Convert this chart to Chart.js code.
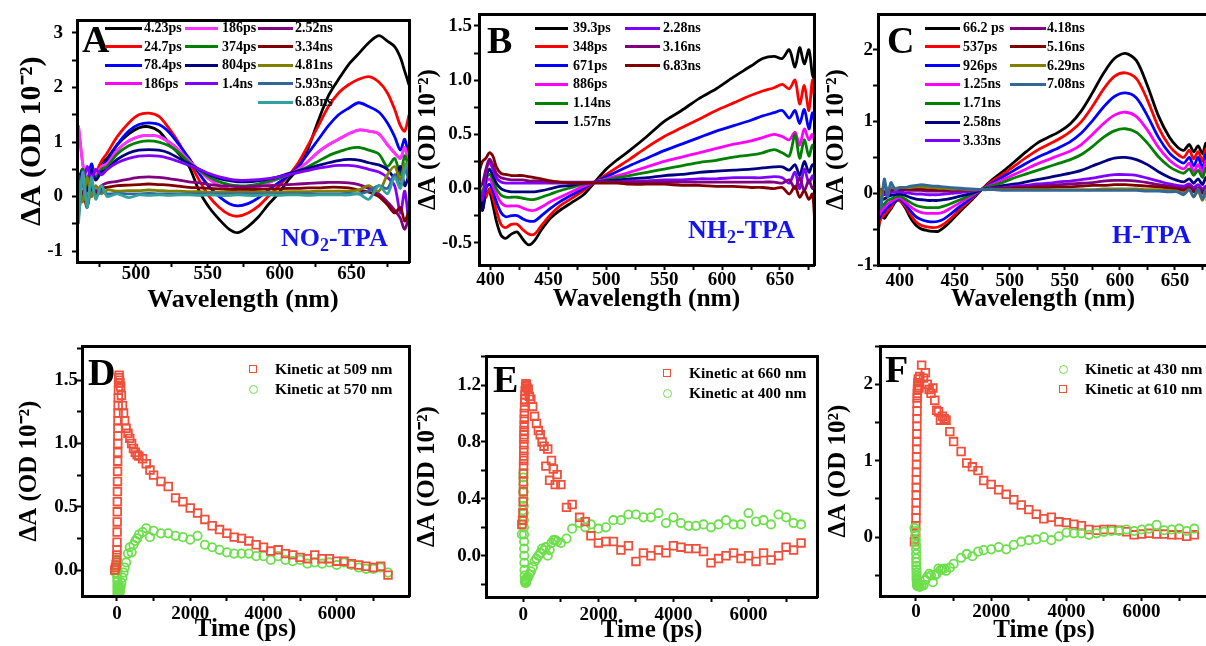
<!DOCTYPE html>
<html>
<head>
<meta charset="utf-8">
<script src="https://cdn.jsdelivr.net/npm/chart.js@4.4.1/dist/chart.umd.min.js"></script>
<style>
  html, body { margin: 0; padding: 0; background: #fff; }
  #fig { position: relative; width: 1206px; height: 646px; overflow: hidden;
         font-family: 'Liberation Serif', 'Times New Roman', serif; font-weight: bold; }
  #fig canvas { position: absolute; }
  .lbl { position: absolute; line-height: 1; white-space: nowrap; }
  .panel { font-size: 38px; color: #000; }
  .mol { font-size: 26px; color: #1414f0; }
  .mol sub { font-size: 18px; vertical-align: -5px; line-height: 0; }
  .leg { position: absolute; height: 18px; display: flex; align-items: center; font-size: 14px; white-space: nowrap; }
  .leg .ln { display: inline-block; height: 3px; }
  .kleg { position: absolute; height: 20px; display: flex; align-items: center; font-size: 15.5px; white-space: nowrap; }
  .mk { position: absolute; box-sizing: border-box; border: 1.8px solid; }
</style>
</head>
<body>
<div id="fig">
  <canvas id="cA" width="412" height="320" style="left:0;top:0;width:412px;height:320px"></canvas>
  <canvas id="cB" width="404" height="320" style="left:412px;top:0;width:404px;height:320px"></canvas>
  <canvas id="cC" width="394" height="320" style="left:816px;top:0;width:394px;height:320px"></canvas>
  <canvas id="cD" width="412" height="326" style="left:0;top:320px;width:412px;height:326px"></canvas>
  <canvas id="cE" width="408" height="326" style="left:412px;top:320px;width:408px;height:326px"></canvas>
  <canvas id="cF" width="392" height="326" style="left:818px;top:320px;width:392px;height:326px"></canvas>
</div>
<script>
// ---------- A : NO2-TPA transient spectra ----------
const wlA = [460,463,466,469,472,476,480,487,495,502,509,516,523,530,537,544,551,558,565,571,578,585,592,599,606,613,620,627,634,641,648,655,662,669,675,680,684,687,690]
const A_4_23ps = [0.3,0.5,0.2,0.55,0.4,0.62,0.7,0.95,1.15,1.26,1.28,1.2,0.98,0.78,0.55,0.1,-0.2,-0.42,-0.6,-0.66,-0.55,-0.38,-0.15,0.05,0.3,0.52,0.9,1.4,1.85,2.15,2.42,2.62,2.82,2.95,2.85,2.75,2.55,2.3,2.05]
const A_24_7ps = [0.2,0.45,0.3,0.5,0.45,0.65,0.8,1.1,1.35,1.5,1.53,1.47,1.25,0.98,0.65,0.3,0.0,-0.2,-0.33,-0.36,-0.3,-0.18,0.0,0.18,0.38,0.62,0.95,1.3,1.65,1.9,2.05,2.15,2.2,2.1,1.9,1.6,1.3,1.2,1.5]
const A_78_4ps = [0.1,0.5,0.25,0.6,0.35,0.55,0.65,0.95,1.2,1.32,1.35,1.32,1.18,0.95,0.7,0.42,0.18,0.0,-0.13,-0.17,-0.13,-0.03,0.12,0.25,0.38,0.55,0.8,1.05,1.3,1.5,1.62,1.72,1.65,1.55,1.35,1.1,0.85,1.05,0.7]
const A_186ps = [1.3,0.6,0.2,0.5,0.4,0.55,0.6,0.85,1.02,1.1,1.12,1.1,1.0,0.85,0.65,0.48,0.32,0.2,0.13,0.1,0.12,0.17,0.25,0.33,0.4,0.5,0.65,0.82,0.95,1.05,1.15,1.22,1.2,1.15,0.95,0.8,0.7,0.9,0.6]
const A_374ps = [0.0,0.5,0.2,0.45,0.35,0.5,0.55,0.78,0.93,1.0,1.02,1.0,0.93,0.8,0.62,0.48,0.36,0.27,0.22,0.2,0.2,0.23,0.28,0.33,0.4,0.47,0.55,0.65,0.75,0.82,0.88,0.9,0.85,0.78,0.55,0.7,0.4,0.75,0.5]
const A_804ps = [0.2,0.45,0.1,0.5,0.3,0.45,0.5,0.68,0.8,0.85,0.86,0.85,0.8,0.7,0.6,0.5,0.4,0.33,0.29,0.27,0.27,0.29,0.32,0.36,0.42,0.47,0.52,0.57,0.62,0.66,0.68,0.67,0.62,0.58,0.5,0.35,0.55,0.2,0.4]
const A_1_4ns = [0.4,0.2,0.55,0.3,0.5,0.4,0.5,0.62,0.7,0.74,0.75,0.74,0.7,0.64,0.57,0.5,0.42,0.36,0.32,0.3,0.3,0.31,0.33,0.36,0.4,0.44,0.48,0.52,0.55,0.57,0.57,0.55,0.5,0.45,0.35,0.2,-0.3,0.1,-0.55]
const A_2_52ns = [0.0,0.3,-0.1,0.25,0.1,0.2,0.25,0.28,0.32,0.35,0.36,0.35,0.33,0.3,0.27,0.25,0.22,0.2,0.19,0.18,0.18,0.19,0.2,0.21,0.22,0.23,0.24,0.25,0.26,0.26,0.25,0.22,0.15,0.05,-0.1,-0.25,-0.4,-0.6,-0.35]
const A_3_34ns = [-0.3,0.1,-0.2,0.15,0.05,0.15,0.17,0.2,0.21,0.22,0.23,0.22,0.21,0.19,0.17,0.16,0.15,0.14,0.13,0.13,0.13,0.13,0.14,0.14,0.15,0.15,0.16,0.16,0.17,0.17,0.16,0.12,0.08,0.0,-0.15,-0.3,-0.2,-0.45,-0.25]
const A_4_81ns = [0.3,-0.1,0.35,0.0,0.2,0.05,0.12,0.1,0.11,0.11,0.12,0.11,0.1,0.1,0.09,0.09,0.08,0.08,0.08,0.08,0.08,0.08,0.08,0.08,0.09,0.09,0.09,0.1,0.1,0.1,0.1,0.12,0.2,0.1,0.4,0.55,0.3,0.6,0.45]
const A_5_93ns = [-0.4,0.3,-0.1,0.25,0.0,0.1,0.05,0.06,0.05,0.05,0.06,0.05,0.05,0.05,0.05,0.05,0.05,0.05,0.05,0.05,0.05,0.05,0.05,0.05,0.05,0.05,0.05,0.05,0.05,0.05,0.06,0.05,0.1,0.2,0.15,0.4,0.2,0.5,0.3]
const A_6_83ns = [-0.5,0.45,-0.2,0.35,-0.05,0.2,0.0,0.05,-0.02,0.03,0.02,0.03,0.02,0.03,0.03,0.02,0.03,0.02,0.02,0.03,0.02,0.02,0.03,0.02,0.03,0.03,0.02,0.03,0.03,0.03,0.03,0.05,-0.05,0.2,0.05,0.35,0.15,0.5,0.65]
const namesA = ['4.23ps','24.7ps','78.4ps','186ps','186ps','374ps','804ps','1.4ns','2.52ns','3.34ns','4.81ns','5.93ns','6.83ns']
const seriesA = [A_4_23ps, A_24_7ps, A_78_4ps, A_186ps, A_186ps, A_374ps, A_804ps, A_1_4ns, A_2_52ns, A_3_34ns, A_4_81ns, A_5_93ns, A_6_83ns]

// ---------- B : NH2-TPA transient spectra ----------
const wlB = [390,393,396,399,402,405,409,413,418,423,428,433,438,444,452,460,470,480,490,500,510,520,535,550,565,580,595,610,625,635,645,652,658,663,667,671,675,678,680]
const B_39_3ps = [-0.1,-0.2,-0.05,-0.03,-0.15,-0.3,-0.43,-0.46,-0.42,-0.4,-0.47,-0.52,-0.48,-0.38,-0.27,-0.2,-0.13,-0.06,0.06,0.18,0.27,0.35,0.48,0.62,0.72,0.83,0.92,1.03,1.13,1.2,1.22,1.2,1.28,1.12,1.3,1.15,1.28,1.05,1.0]
const B_348ps = [-0.15,-0.1,-0.08,0.0,-0.08,-0.2,-0.33,-0.36,-0.33,-0.33,-0.38,-0.42,-0.42,-0.34,-0.24,-0.16,-0.09,-0.02,0.06,0.13,0.2,0.27,0.38,0.48,0.56,0.64,0.72,0.79,0.86,0.9,0.93,0.96,0.92,1.0,0.78,0.95,0.72,1.0,0.8]
const B_671ps = [-0.1,-0.15,0.0,0.04,-0.02,-0.12,-0.22,-0.26,-0.25,-0.25,-0.28,-0.3,-0.3,-0.25,-0.18,-0.12,-0.06,0.0,0.06,0.11,0.16,0.21,0.28,0.35,0.41,0.47,0.53,0.58,0.63,0.67,0.7,0.72,0.65,0.72,0.6,0.73,0.55,0.7,0.6]
const B_886ps = [-0.05,-0.12,0.05,0.09,0.03,-0.05,-0.13,-0.16,-0.16,-0.16,-0.18,-0.2,-0.2,-0.17,-0.12,-0.08,-0.03,0.02,0.06,0.09,0.12,0.15,0.2,0.25,0.29,0.33,0.37,0.41,0.44,0.47,0.5,0.48,0.45,0.52,0.4,0.55,0.45,0.5,0.42]
const B_1_14ns = [-0.2,-0.05,0.08,0.13,0.08,0.0,-0.06,-0.08,-0.08,-0.08,-0.09,-0.1,-0.1,-0.08,-0.05,-0.02,0.01,0.04,0.06,0.08,0.1,0.12,0.15,0.18,0.21,0.24,0.26,0.29,0.31,0.33,0.36,0.33,0.3,0.5,0.28,0.45,0.3,0.4,0.35]
const B_1_57ns = [-0.05,-0.2,0.1,0.18,0.12,0.05,0.0,-0.02,-0.03,-0.03,-0.03,-0.03,-0.03,-0.02,0.0,0.02,0.03,0.05,0.06,0.07,0.08,0.09,0.1,0.12,0.13,0.15,0.16,0.17,0.18,0.19,0.2,0.2,0.17,0.22,0.12,0.25,0.15,0.22,0.2]
const B_2_28ns = [0.05,-0.1,0.15,0.24,0.18,0.1,0.06,0.05,0.05,0.05,0.05,0.05,0.05,0.05,0.05,0.05,0.05,0.05,0.06,0.06,0.06,0.07,0.07,0.08,0.08,0.09,0.09,0.1,0.1,0.1,0.11,0.1,0.05,0.15,0.0,0.18,0.05,0.12,0.05]
const B_3_16ns = [0.0,0.05,0.18,0.27,0.22,0.14,0.1,0.09,0.08,0.08,0.08,0.07,0.07,0.07,0.06,0.06,0.06,0.06,0.06,0.06,0.06,0.06,0.06,0.06,0.06,0.06,0.06,0.06,0.06,0.06,0.06,0.05,0.08,0.0,0.1,-0.02,0.08,0.0,0.03]
const B_6_83ns = [0.15,0.25,0.28,0.33,0.3,0.2,0.14,0.13,0.12,0.12,0.12,0.11,0.1,0.09,0.07,0.06,0.05,0.05,0.05,0.05,0.05,0.04,0.04,0.04,0.03,0.03,0.02,0.02,0.01,0.01,0.0,0.01,-0.05,0.02,-0.08,-0.02,-0.1,-0.05,-0.3]
const namesB = ['39.3ps','348ps','671ps','886ps','1.14ns','1.57ns','2.28ns','3.16ns','6.83ns']
const seriesB = [B_39_3ps, B_348ps, B_671ps, B_886ps, B_1_14ns, B_1_57ns, B_2_28ns, B_3_16ns, B_6_83ns]

// ---------- C : H-TPA transient spectra ----------
const wlC = [380,383,386,389,392,396,400,405,410,415,420,425,430,435,440,447,455,465,475,485,495,505,515,525,535,545,555,565,575,585,595,605,615,625,635,645,652,658,663,667,671,675,678,680]
const C_66_2ps = [-0.6,-0.3,-0.35,-0.28,-0.22,-0.12,-0.1,-0.2,-0.35,-0.45,-0.5,-0.52,-0.53,-0.53,-0.48,-0.38,-0.25,-0.1,0.06,0.2,0.32,0.45,0.58,0.7,0.78,0.86,0.97,1.15,1.4,1.67,1.88,1.95,1.85,1.5,1.08,0.78,0.65,0.6,0.68,0.58,0.66,0.55,0.7,0.6]
const C_537ps = [-0.5,-0.35,-0.3,-0.25,-0.2,-0.1,-0.1,-0.18,-0.3,-0.4,-0.45,-0.47,-0.48,-0.47,-0.43,-0.34,-0.22,-0.08,0.06,0.18,0.28,0.39,0.5,0.6,0.68,0.76,0.86,1.0,1.21,1.45,1.63,1.68,1.6,1.3,0.92,0.66,0.55,0.5,0.6,0.48,0.58,0.45,0.62,0.5]
const C_926ps = [-0.4,-0.3,-0.25,-0.2,-0.15,-0.1,-0.08,-0.15,-0.25,-0.33,-0.37,-0.39,-0.4,-0.39,-0.36,-0.28,-0.18,-0.06,0.06,0.15,0.24,0.33,0.42,0.5,0.57,0.64,0.72,0.84,1.01,1.2,1.35,1.4,1.33,1.08,0.78,0.56,0.47,0.42,0.5,0.38,0.5,0.35,0.55,0.4]
const C_1_25ns = [-0.35,-0.25,-0.2,-0.15,-0.12,-0.08,-0.06,-0.12,-0.19,-0.24,-0.27,-0.28,-0.28,-0.28,-0.26,-0.2,-0.13,-0.04,0.06,0.13,0.2,0.27,0.34,0.41,0.47,0.53,0.59,0.68,0.82,0.97,1.09,1.13,1.07,0.88,0.64,0.46,0.38,0.34,0.42,0.3,0.4,0.28,0.45,0.32]
const C_1_71ns = [-0.25,-0.2,-0.15,-0.1,-0.08,-0.05,-0.04,-0.08,-0.13,-0.17,-0.19,-0.2,-0.2,-0.2,-0.18,-0.14,-0.09,-0.02,0.06,0.11,0.16,0.22,0.27,0.32,0.37,0.42,0.47,0.54,0.65,0.78,0.87,0.9,0.85,0.7,0.51,0.37,0.31,0.28,0.34,0.25,0.32,0.22,0.35,0.25]
const C_2_58ns = [-0.2,-0.1,-0.08,-0.05,-0.03,-0.02,-0.01,-0.03,-0.06,-0.08,-0.09,-0.1,-0.1,-0.1,-0.09,-0.07,-0.04,0.0,0.05,0.08,0.11,0.13,0.16,0.19,0.22,0.25,0.28,0.32,0.38,0.44,0.49,0.5,0.47,0.4,0.3,0.22,0.18,0.16,0.2,0.14,0.2,0.12,0.22,0.15]
const C_3_33ns = [-0.15,0.0,-0.02,0.0,0.01,0.02,0.02,0.01,0.0,-0.01,-0.01,-0.02,-0.02,-0.02,-0.01,0.0,0.01,0.03,0.05,0.07,0.08,0.1,0.11,0.13,0.14,0.16,0.17,0.19,0.21,0.24,0.26,0.26,0.25,0.21,0.17,0.13,0.11,0.1,0.13,0.08,0.12,0.06,0.1,0.05]
const C_4_18ns = [-0.3,0.05,0.0,0.03,0.04,0.05,0.05,0.05,0.04,0.04,0.04,0.03,0.03,0.03,0.03,0.03,0.04,0.04,0.05,0.06,0.07,0.08,0.09,0.1,0.11,0.12,0.13,0.14,0.15,0.17,0.18,0.18,0.17,0.15,0.12,0.1,0.08,0.07,0.1,0.05,0.08,0.03,0.07,0.02]
const C_5_16ns = [-0.2,0.05,0.02,0.05,0.05,0.06,0.06,0.06,0.06,0.06,0.06,0.06,0.05,0.05,0.05,0.05,0.05,0.05,0.05,0.06,0.06,0.07,0.07,0.08,0.08,0.09,0.09,0.1,0.11,0.11,0.12,0.12,0.11,0.1,0.09,0.07,0.06,0.04,0.07,0.02,0.06,0.0,0.05,-0.02]
const C_6_29ns = [0.3,-0.1,0.15,0.05,0.08,0.07,0.08,0.08,0.08,0.09,0.09,0.08,0.08,0.07,0.07,0.06,0.06,0.05,0.05,0.05,0.05,0.05,0.05,0.05,0.05,0.05,0.05,0.05,0.05,0.06,0.06,0.06,0.06,0.05,0.05,0.04,0.03,0.0,0.05,-0.05,0.03,-0.1,0.02,-0.25]
const C_7_08ns = [0.1,-0.2,0.2,-0.05,0.15,0.05,0.08,0.08,0.1,0.11,0.12,0.11,0.1,0.1,0.09,0.08,0.07,0.06,0.05,0.05,0.04,0.04,0.04,0.04,0.04,0.04,0.04,0.04,0.04,0.04,0.04,0.04,0.04,0.03,0.03,0.02,0.02,-0.02,0.05,-0.05,0.06,-0.08,0.05,-0.1]
const namesC = ['66.2 ps','537ps','926ps','1.25ns','1.71ns','2.58ns','3.33ns','4.18ns','5.16ns','6.29ns','7.08ns']
const seriesC = [C_66_2ps, C_537ps, C_926ps, C_1_25ns, C_1_71ns, C_2_58ns, C_3_33ns, C_4_18ns, C_5_16ns, C_6_29ns, C_7_08ns]

// ---------- D : NO2-TPA kinetics ----------
const tD = [-60,-40,-20,-10,-5,0,2,4,6,8,10,12,14,16,18,20,22,24,26,28,30,33,36,40,45,50,60,70,80,100,120,150,180,210,250,300,350,400,450,500,550,600,700,800,900,1000,1200,1400,1600,1800,2000,2200,2400,2600,2800,3000,3200,3400,3600,3800,4000,4200,4400,4600,4800,5000,5200,5400,5600,5800,6000,6200,6400,6600,6800,7000,7200,7400]
const D_509nm = [0.0,0.02,0.04,0.08,0.12,0.16,0.22,0.3,0.38,0.46,0.54,0.62,0.7,0.78,0.86,0.93,1.0,1.06,1.12,1.18,1.24,1.3,1.36,1.42,1.48,1.52,1.54,1.5,1.48,1.45,1.38,1.3,1.24,1.18,1.12,1.08,1.04,1.0,0.96,0.93,0.91,0.9,0.88,0.84,0.79,0.75,0.7,0.66,0.57,0.54,0.49,0.45,0.4,0.35,0.32,0.29,0.26,0.25,0.23,0.2,0.18,0.15,0.16,0.13,0.12,0.1,0.09,0.12,0.09,0.09,0.07,0.07,0.05,0.04,0.03,0.02,0.03,-0.04]
const D_570nm = [0.0,-0.02,0.04,0.07,0.08,0.06,0.03,0.0,-0.03,-0.06,-0.09,-0.12,-0.14,-0.16,-0.18,-0.19,-0.17,-0.19,-0.15,-0.18,-0.16,-0.19,-0.14,-0.17,-0.12,-0.16,-0.18,-0.14,-0.17,-0.13,-0.1,-0.06,-0.02,0.02,0.06,0.13,0.18,0.14,0.2,0.23,0.25,0.28,0.3,0.33,0.26,0.31,0.29,0.29,0.27,0.26,0.24,0.27,0.2,0.18,0.16,0.14,0.13,0.13,0.13,0.11,0.11,0.08,0.11,0.08,0.07,0.08,0.05,0.06,0.05,0.06,0.04,0.06,0.04,0.02,0.01,0.01,0.02,-0.02]

// ---------- E : NH2-TPA kinetics ----------
const tE = [-40,-20,-10,-5,0,2,4,6,8,10,12,14,16,18,20,22,25,28,32,36,40,45,50,60,70,80,100,130,160,200,250,300,350,400,450,500,550,600,650,700,750,800,850,900,1000,1150,1300,1500,1650,1800,2000,2200,2400,2600,2800,3000,3200,3400,3600,3800,4000,4200,4400,4600,4800,5000,5200,5400,5600,5800,6000,6200,6400,6600,6800,7000,7200,7400]
const E_660nm = [0.22,0.25,0.3,0.38,0.45,0.52,0.58,0.63,0.67,0.7,0.74,0.78,0.82,0.85,0.88,0.92,0.96,1.0,1.04,1.08,1.1,1.13,1.16,1.19,1.21,1.2,1.18,1.17,1.12,1.1,1.05,0.98,0.93,0.88,0.85,0.8,0.77,0.63,0.75,0.53,0.67,0.61,0.5,0.57,0.5,0.34,0.36,0.27,0.24,0.14,0.09,0.1,0.1,0.04,0.07,-0.04,0.02,0.0,0.04,0.02,0.07,0.06,0.05,0.05,0.03,-0.05,-0.02,0.0,0.02,-0.02,0.0,-0.04,0.02,-0.03,0.0,0.06,0.04,0.09]
const E_400nm = [0.15,0.22,0.32,0.45,0.58,0.55,0.5,0.45,0.4,0.35,0.3,0.25,0.2,0.15,0.1,0.05,0.0,-0.05,-0.1,-0.14,-0.17,-0.18,-0.19,-0.18,-0.19,-0.17,-0.16,-0.15,-0.13,-0.11,-0.08,-0.04,-0.02,0.0,0.02,0.05,0.04,0.06,0.0,0.04,0.09,0.11,0.11,0.1,0.09,0.12,0.19,0.23,0.2,0.22,0.19,0.2,0.25,0.25,0.29,0.29,0.27,0.27,0.3,0.23,0.27,0.23,0.21,0.21,0.22,0.2,0.22,0.25,0.22,0.22,0.3,0.24,0.25,0.22,0.29,0.27,0.23,0.22]

// ---------- F : H-TPA kinetics ----------
const tF = [-40,-20,-10,-5,0,2,4,6,8,10,12,14,16,18,20,22,24,26,28,30,33,36,40,45,50,60,80,100,150,200,250,300,350,400,450,500,550,600,650,700,750,800,900,1000,1200,1350,1500,1650,1800,2000,2200,2400,2600,2800,3000,3200,3400,3600,3800,4000,4200,4400,4600,4800,5000,5200,5400,5600,5800,6000,6200,6400,6600,6800,7000,7200,7400]
const F_430nm = [0.12,0.08,0.02,-0.04,-0.1,-0.16,-0.22,-0.28,-0.33,-0.38,-0.42,-0.46,-0.5,-0.53,-0.55,-0.57,-0.59,-0.6,-0.62,-0.63,-0.62,-0.64,-0.62,-0.6,-0.63,-0.6,-0.62,-0.65,-0.63,-0.63,-0.56,-0.52,-0.48,-0.5,-0.59,-0.5,-0.48,-0.41,-0.43,-0.42,-0.41,-0.44,-0.4,-0.35,-0.27,-0.22,-0.25,-0.19,-0.17,-0.16,-0.13,-0.16,-0.1,-0.06,-0.04,-0.03,0.0,-0.04,0.01,0.06,0.05,0.05,0.03,0.05,0.07,0.08,0.08,0.1,0.08,0.1,0.11,0.16,0.09,0.1,0.11,0.08,0.11]
const F_610nm = [-0.06,-0.03,0.05,0.15,0.25,0.35,0.45,0.55,0.65,0.75,0.85,0.95,1.05,1.15,1.25,1.35,1.45,1.55,1.65,1.75,1.82,1.88,1.93,1.98,2.02,2.07,1.95,2.1,2.25,2.08,2.15,2.0,1.93,1.88,1.95,1.79,1.66,1.64,1.53,1.58,1.55,1.53,1.38,1.25,1.12,0.97,0.92,0.87,0.74,0.69,0.62,0.56,0.49,0.42,0.36,0.3,0.24,0.26,0.2,0.19,0.17,0.15,0.1,0.09,0.1,0.1,0.09,0.07,0.03,0.04,0.05,0.04,0.04,0.03,0.03,0.01,0.03]

// ---------- axis ticks (all ticks / labelled ticks) ----------
const xTicksA = [475,500,525,550,575,600,625,650,675], xLabelsA = [500,550,600,650]
const yTicksA = [-1,-0.5,0,0.5,1,1.5,2,2.5,3], yLabelsA = [-1,0,1,2,3]
const xTicksB = [400,425,450,475,500,525,550,575,600,625,650,675], xLabelsB = [400,450,500,550,600,650]
const yTicksB = [-0.5,-0.25,0,0.25,0.5,0.75,1,1.25,1.5], yLabelsB = [-0.5,0,0.5,1,1.5]
const xTicksC = [400,425,450,475,500,525,550,575,600,625,650,675], xLabelsC = [400,450,500,550,600,650]
const yTicksC = [-1,-0.5,0,0.5,1,1.5,2], yLabelsC = [-1,0,1,2]
const xTicksKin = [0,1000,2000,3000,4000,5000,6000,7000], xLabelsKin = [0,2000,4000,6000]
const yTicksD = [0,0.25,0.5,0.75,1,1.25,1.5,1.75], yLabelsD = [0,0.5,1,1.5]
const yTicksE = [-0.2,0,0.2,0.4,0.6,0.8,1,1.2,1.4], yLabelsE = [0,0.4,0.8,1.2]
const yTicksF = [-0.5,0,0.5,1,1.5,2,2.5], yLabelsF = [0,1,2]

const palA = ['#000000','#ff0000','#0000ff','#ff00ff','#ff33ff','#008000','#000080','#8000ff','#800080','#800000','#808000','#336699','#33a0a0']
const palB = ['#000000','#ff0000','#0000ff','#ff00ff','#008000','#000080','#8000ff','#800080','#800000']
const palC = ['#000000','#ff0000','#0000ff','#ff00ff','#008000','#000080','#8000ff','#800080','#800000','#808000','#336699']
const RED = '#ef4f3b', GREEN = '#6ddf4c'
const SERIF = "'Liberation Serif', 'Times New Roman', serif"
const YT = 'ΔA (OD 10⁻²)'

function frame(ax) {
    const [wl, wr, ht, hb] = ax.box
    const tickFont = { family: SERIF, size: 19, weight: 'bold' }
    const edge = (pos, fit) => ({
        type: 'linear', position: pos,
        ticks: { display: false },
        grid: { drawOnChartArea: false, drawTicks: false },
        border: { color: '#000', width: 3, z: 1 },
        afterFit: fit
    })
    return {
        responsive: false,
        animation: false,
        events: [],
        layout: { padding: 0, autoPadding: false },
        plugins: { legend: { display: false }, tooltip: { enabled: false } },
        scales: {
            x: {
                type: 'linear', position: 'bottom', min: ax.x[0], max: ax.x[1],
                afterBuildTicks: s => { s.ticks = ax.xt.map(v => ({ value: v })) },
                afterFit: s => { s.height = hb },
                ticks: { autoSkip: false, maxRotation: 0, padding: ax.xPad, color: '#000', font: tickFont,
                         callback: v => ax.xl.includes(v) ? String(v) : '' },
                grid: { drawOnChartArea: false, tickLength: 5, tickWidth: 2, tickColor: '#000' },
                border: { color: '#000', width: 3, z: 1 },
                title: { display: true, text: ax.xTitle, color: '#000',
                         font: { family: SERIF, size: ax.xts, weight: 'bold' },
                         padding: { top: 0, bottom: ax.xtp } }
            },
            y: {
                type: 'linear', position: 'left', min: ax.y[0], max: ax.y[1],
                afterBuildTicks: s => { s.ticks = ax.yt.map(v => ({ value: v })) },
                afterFit: s => { s.width = wl },
                ticks: { autoSkip: false, padding: ax.yPad, color: '#000', font: tickFont,
                         callback: v => ax.yl.includes(v) ? v.toFixed(ax.dig) : '' },
                grid: { drawOnChartArea: false, tickLength: 5, tickWidth: 2, tickColor: '#000' },
                border: { color: '#000', width: 3, z: 1 },
                title: { display: true, text: ax.yTitle, color: '#000',
                         font: { family: SERIF, size: ax.yts, weight: 'bold' },
                         padding: { top: ax.ytp, bottom: 0 } }
            },
            x2: edge('top', s => { s.height = ht }),
            y2: edge('right', s => { s.width = wr })
        }
    }
}

function spectrum(id, wl, series, pal, ax) {
    const n = series.length
    const datasets = series.map((s, i) => ({
        data: s.map((v, k) => ({ x: wl[k], y: v })),
        borderColor: pal[i], borderWidth: 2.8, pointRadius: 0, tension: 0.3,
        clip: 0, order: n - i
    }))
    new Chart(document.getElementById(id), { type: 'line', data: { datasets }, options: frame(ax) })
}

function kinetic(id, t, series, ax) {
    const datasets = series.map(s => ({
        data: s.vals.map((v, k) => ({ x: t[k], y: v })),
        pointStyle: s.shape, pointRadius: s.shape === 'rect' ? 5.4 : 4.2,
        borderColor: s.color, backgroundColor: 'rgba(255,255,255,0)', borderWidth: 1.8
    }))
    new Chart(document.getElementById(id), { type: 'scatter', data: { datasets }, options: frame(ax) })
}

spectrum('cA', wlA, seriesA, palA, { box: [77, 3, 14, 58], x: [459, 690], y: [-1.2, 3.23],
    xt: xTicksA, xl: xLabelsA, yt: yTicksA, yl: yLabelsA, dig: 0, xPad: -4, yPad: 9,
    xTitle: 'Wavelength (nm)', xts: 26, xtp: 4, yTitle: YT, yts: 30, ytp: 14 })
spectrum('cB', wlB, seriesB, palB, { box: [67, 2, 14, 55], x: [390, 679.4], y: [-0.705, 1.61],
    xt: xTicksB, xl: xLabelsB, yt: yTicksB, yl: yLabelsB, dig: 1, xPad: -1, yPad: 2,
    xTitle: 'Wavelength (nm)', xts: 25.5, xtp: 5, yTitle: YT, yts: 25, ytp: 2 })
spectrum('cC', wlC, seriesC, palC, { box: [62, 2, 14, 55], x: [380.3, 680], y: [-1, 2.5],
    xt: xTicksC, xl: xLabelsC, yt: yTicksC, yl: yLabelsC, dig: 0, xPad: 0, yPad: 0,
    xTitle: 'Wavelength (nm)', xts: 25, xtp: 5, yTitle: YT, yts: 25, ytp: 6 })

kinetic('cD', tD, [{ vals: D_509nm, color: RED, shape: 'rect' }, { vals: D_570nm, color: GREEN, shape: 'circle' }],
    { box: [82, 3, 26, 50], x: [-955, 7973], y: [-0.205, 1.77],
      xt: xTicksKin, xl: xLabelsKin, yt: yTicksD, yl: yLabelsD, dig: 1, xPad: 2, yPad: -1,
      xTitle: 'Time (ps)', xts: 25, xtp: 1, yTitle: YT, yts: 25, ytp: 15 })
kinetic('cE', tE, [{ vals: E_660nm, color: RED, shape: 'rect' }, { vals: E_400nm, color: GREEN, shape: 'circle' }],
    { box: [74, 3, 36, 49], x: [-995, 7824], y: [-0.29, 1.404],
      xt: xTicksKin, xl: xLabelsKin, yt: yTicksE, yl: yLabelsE, dig: 1, xPad: 2, yPad: 0,
      xTitle: 'Time (ps)', xts: 25, xtp: 0, yTitle: YT, yts: 25, ytp: 1 })
kinetic('cF', tF, [{ vals: F_430nm, color: GREEN, shape: 'circle' }, { vals: F_610nm, color: RED, shape: 'rect' }],
    { box: [62, 2, 26, 50], x: [-957, 7766], y: [-0.77, 2.5],
      xt: xTicksKin, xl: xLabelsKin, yt: yTicksF, yl: yLabelsF, dig: 0, xPad: 0, yPad: 2,
      xTitle: 'Time (ps)', xts: 25, xtp: 0, yTitle: 'ΔA (OD 10²)', yts: 25, ytp: 6 })

// ---------- overlay text: panel letters, compound names, legends ----------
const fig = document.getElementById('fig')

function label(html, x, y, cls) {
    const d = document.createElement('div')
    d.className = 'lbl ' + cls
    d.style.left = x + 'px'
    d.style.top = y + 'px'
    d.innerHTML = html
    fig.appendChild(d)
}

label('A', 82, 20, 'panel')
label('B', 487, 21, 'panel')
label('C', 887, 21, 'panel')
label('D', 88, 353, 'panel')
label('E', 493, 360, 'panel')
label('F', 885, 350, 'panel')
label('NO<sub>2</sub>-TPA', 281, 225, 'mol')
label('NH<sub>2</sub>-TPA', 688, 217, 'mol')
label('H-TPA', 1112, 222, 'mol')

// columns: [first, last, lineX, lineW, textX]
function lineLegend(names, pal, cols, y0, dy) {
    cols.forEach(([a, b, lx, lw, tx]) => {
        for (let i = a; i <= b; i++) {
            const row = document.createElement('div')
            row.className = 'leg'
            row.style.left = lx + 'px'
            row.style.top = (y0 + (i - a) * dy - 9) + 'px'
            row.innerHTML = `<span class="ln" style="width:${lw}px;background:${pal[i]};margin-right:${tx - lx - lw}px"></span><span>${names[i]}</span>`
            fig.appendChild(row)
        }
    })
}

lineLegend(namesA, palA, [[0, 3, 105, 37, 144], [4, 7, 185, 33, 222], [8, 12, 258, 35, 295]], 28, 18.5)
lineLegend(namesB, palB, [[0, 5, 535, 33, 573], [6, 8, 625, 35, 663]], 28, 18.8)
lineLegend(namesC, palC, [[0, 6, 925, 35, 963], [7, 10, 1010, 36, 1047]], 28, 18.8)

function markerLegend(items) {
    items.forEach(([name, color, shape, mx, y, tx]) => {
        const m = document.createElement('div')
        m.className = 'mk'
        const size = shape === 'rect' ? 8 : 9
        m.style.cssText = `left:${mx - size / 2}px;top:${y - size / 2}px;width:${size}px;height:${size}px;border-color:${color};border-radius:${shape === 'rect' ? 0 : '50%'}`
        fig.appendChild(m)
        const t = document.createElement('div')
        t.className = 'kleg'
        t.style.left = tx + 'px'
        t.style.top = (y - 10) + 'px'
        t.textContent = name
        fig.appendChild(t)
    })
}

markerLegend([
    ['Kinetic at 509 nm', RED, 'rect', 253, 369, 275],
    ['Kinetic at 570 nm', GREEN, 'circle', 253, 389, 275],
    ['Kinetic at 660 nm', RED, 'rect', 667, 373, 689],
    ['Kinetic at 400 nm', GREEN, 'circle', 667, 393, 689],
    ['Kinetic at 430 nm', GREEN, 'circle', 1063, 369, 1085],
    ['Kinetic at 610 nm', RED, 'rect', 1063, 389, 1085]
])
</script>
</body>
</html>
